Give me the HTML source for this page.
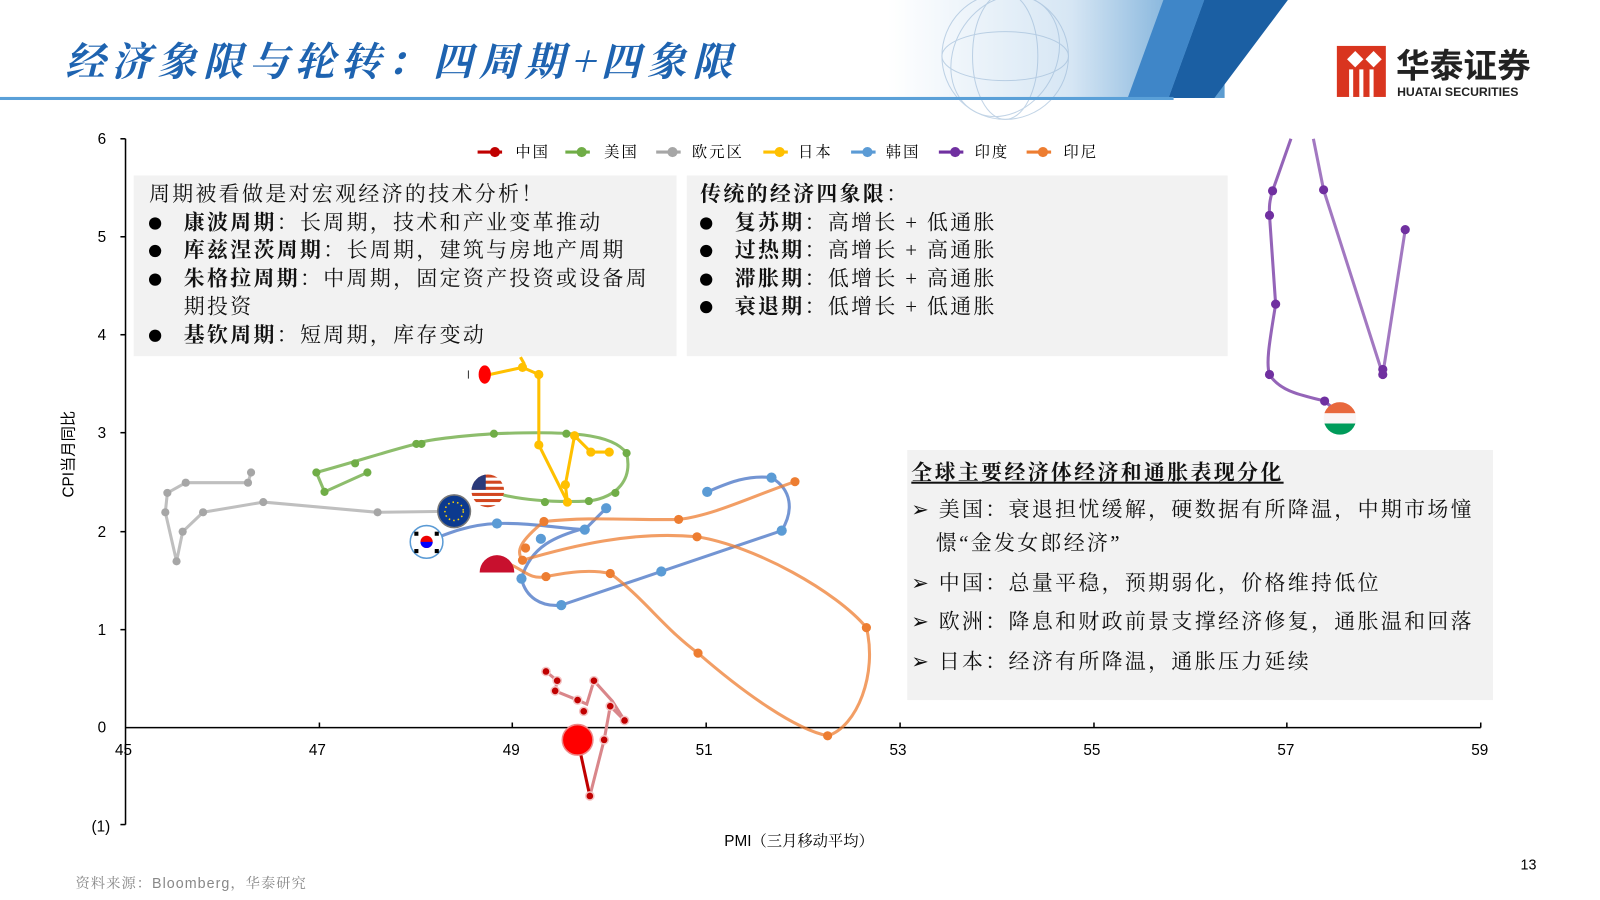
<!DOCTYPE html>
<html><head><meta charset="utf-8">
<style>
html,body{margin:0;padding:0;background:#fff;width:1600px;height:900px;overflow:hidden}
#w{position:absolute;left:0;top:0;width:1568px;height:882px;transform:scale(1.0205);transform-origin:0 0;font-family:"Liberation Serif","Noto Serif CJK SC",serif}
.t{position:absolute;white-space:nowrap}
.box{position:absolute;background:#f2f2f2}
.ln{font-size:20.5px;color:#111;line-height:27.5px;letter-spacing:2.3px}
.ln b{font-weight:bold}
.dot{display:inline-block;width:12px;height:12px;border-radius:50%;background:#000;margin:0 22px 2px 0;vertical-align:middle}
.bx{font-size:20.5px;letter-spacing:2.3px;color:#111}
</style></head><body><div id="w">
<svg width="1568" height="882" style="position:absolute;left:0;top:0">
<defs>
<linearGradient id="hg" x1="0" x2="1"><stop offset="0.45" stop-color="#fff"/><stop offset="0.75" stop-color="#d6e6f4"/><stop offset="1" stop-color="#5a9bd0"/></linearGradient>
</defs>
<rect x="600" y="0" width="600" height="96" fill="url(#hg)"/>
<polygon points="1180,0 1262,0 1190,96 1145,96" fill="#1b5fa3"/>
<polygon points="1140,0 1180,0 1145,96 1105,96" fill="#3f86c8"/>
<g fill="none" stroke="#9ab8d6" stroke-width="1" opacity="0.6">
<circle cx="985" cy="55" r="62"/><ellipse cx="985" cy="55" rx="32" ry="62"/><ellipse cx="985" cy="55" rx="62" ry="24"/><ellipse cx="985" cy="55" rx="50" ry="62" transform="rotate(30 985 55)"/></g>
<rect x="0" y="95" width="1150" height="3" fill="#5aa0d8"/>
<rect x="1310" y="45" width="48" height="50" fill="#d9351f"/>
<path d="M1320,58 l8,-8 l8,8 l-8,8z M1338,58 l8,-8 l8,8 l-8,8z" fill="#fff"/>
<rect x="1322" y="68" width="4" height="27" fill="#fff"/><rect x="1332" y="68" width="4" height="27" fill="#fff"/><rect x="1342" y="68" width="4" height="27" fill="#fff"/>
<g stroke="#000" stroke-width="1.5" fill="none">
<line x1="123" y1="136" x2="123" y2="808"/>
<line x1="123" y1="713" x2="1451" y2="713"/>
</g>
<g stroke="#000" stroke-width="1.5">
<line x1="118" y1="136" x2="123" y2="136"/><line x1="118" y1="232" x2="123" y2="232"/><line x1="118" y1="328" x2="123" y2="328"/><line x1="118" y1="424" x2="123" y2="424"/><line x1="118" y1="521" x2="123" y2="521"/><line x1="118" y1="617" x2="123" y2="617"/><line x1="118" y1="808" x2="123" y2="808"/>
<line x1="313" y1="708" x2="313" y2="713"/><line x1="502" y1="708" x2="502" y2="713"/><line x1="692" y1="708" x2="692" y2="713"/><line x1="882" y1="708" x2="882" y2="713"/><line x1="1072" y1="708" x2="1072" y2="713"/><line x1="1261" y1="708" x2="1261" y2="713"/><line x1="1451" y1="708" x2="1451" y2="713"/>
</g>
<g font-family="Liberation Sans,sans-serif" font-size="15" fill="#000">
<text x="104" y="141" text-anchor="end">6</text><text x="104" y="237" text-anchor="end">5</text><text x="104" y="333" text-anchor="end">4</text><text x="104" y="429" text-anchor="end">3</text><text x="104" y="526" text-anchor="end">2</text><text x="104" y="622" text-anchor="end">1</text><text x="104" y="718" text-anchor="end">0</text><text x="108" y="815" text-anchor="end">(1)</text>
<text x="121" y="740" text-anchor="middle">45</text><text x="311" y="740" text-anchor="middle">47</text><text x="501" y="740" text-anchor="middle">49</text><text x="690" y="740" text-anchor="middle">51</text><text x="880" y="740" text-anchor="middle">53</text><text x="1070" y="740" text-anchor="middle">55</text><text x="1260" y="740" text-anchor="middle">57</text><text x="1450" y="740" text-anchor="middle">59</text>
</g>
<g stroke="#bfbfbf" stroke-width="3" fill="none" stroke-linejoin="round"><polyline points="445,501 370,502 258,492 199,502 179,521 173,550 162,502 164,483 182,473 243,473 246,463"/></g>
<g fill="#a6a6a6"><circle cx="370" cy="502" r="4"/><circle cx="258" cy="492" r="4"/><circle cx="199" cy="502" r="4"/><circle cx="179" cy="521" r="4"/><circle cx="173" cy="550" r="4"/><circle cx="162" cy="502" r="4"/><circle cx="164" cy="483" r="4"/><circle cx="182" cy="473" r="4"/><circle cx="243" cy="473" r="4"/><circle cx="246" cy="463" r="4"/></g>
<path d="M478,481 C500,488 530,493 577,491 C605,487 620,470 614,444 C600,425 560,422 484,425 C440,428 413,432 408,435 C380,442 350,452 310,463 L318,482 L360,463" stroke="#70ad47" stroke-width="3" fill="none" opacity="0.8"/>
<g fill="#70ad47"><circle cx="534" cy="492" r="4"/><circle cx="577" cy="491" r="4"/><circle cx="603" cy="483" r="4"/><circle cx="614" cy="444" r="4"/><circle cx="555" cy="425" r="4"/><circle cx="484" cy="425" r="4"/><circle cx="408" cy="435" r="4"/><circle cx="413" cy="435" r="4"/><circle cx="348" cy="454" r="4"/><circle cx="310" cy="463" r="4"/><circle cx="318" cy="482" r="4"/><circle cx="360" cy="463" r="4"/></g>
<polyline points="480,367 512,360 528,367 528,436 556,492 554,475 563,427 579,443 597,443" stroke="#ffc000" stroke-width="3" fill="none" stroke-linejoin="round"/>
<line x1="510" y1="350" x2="514" y2="357" stroke="#ffc000" stroke-width="3"/>
<g fill="#ffc000"><circle cx="512" cy="360" r="4.5"/><circle cx="528" cy="367" r="4.5"/><circle cx="528" cy="436" r="4.5"/><circle cx="556" cy="492" r="4.5"/><circle cx="554" cy="475" r="4.5"/><circle cx="563" cy="427" r="4.5"/><circle cx="579" cy="443" r="4.5"/><circle cx="597" cy="443" r="4.5"/></g>
<path d="M418,531 C440,522 460,514 487,513 C520,512 550,518 573,519 L594,498 L575,517 C545,525 520,535 511,567 C515,585 530,595 550,593 L648,560 L766,520 C778,500 776,480 756,468 C730,465 710,475 693,482" stroke="#4472c4" stroke-width="3" fill="none" opacity="0.75"/>
<g fill="#5b9bd5"><circle cx="487" cy="513" r="5"/><circle cx="573" cy="519" r="5"/><circle cx="594" cy="498" r="5"/><circle cx="530" cy="528" r="5"/><circle cx="511" cy="567" r="5"/><circle cx="550" cy="593" r="5"/><circle cx="648" cy="560" r="5"/><circle cx="766" cy="520" r="5"/><circle cx="756" cy="468" r="5"/><circle cx="693" cy="482" r="5"/></g>
<path d="M500,553 C515,560 520,568 535,565 C560,560 580,558 598,562 C630,585 650,615 684,640 C730,680 780,715 811,721 C840,712 860,660 849,615 C820,580 740,535 683,526 C620,520 560,535 512,549 C505,540 510,530 533,511 C580,506 620,510 665,509 C700,505 740,485 779,472" stroke="#ed7d31" stroke-width="3" fill="none" opacity="0.75"/>
<g fill="#ed7d31"><circle cx="512" cy="549" r="4.5"/><circle cx="535" cy="565" r="4.5"/><circle cx="598" cy="562" r="4.5"/><circle cx="684" cy="640" r="4.5"/><circle cx="811" cy="721" r="4.5"/><circle cx="849" cy="615" r="4.5"/><circle cx="683" cy="526" r="4.5"/><circle cx="515" cy="537" r="4.5"/><circle cx="533" cy="511" r="4.5"/><circle cx="665" cy="509" r="4.5"/><circle cx="779" cy="472" r="4.5"/></g>
<polyline points="578,780 592,725 598,692 612,706 600,687 582,667 575,690 566,686 544,677 546,667 535,658" stroke="#d9868a" stroke-width="3" fill="none"/>
<line x1="566" y1="725" x2="578" y2="780" stroke="#c00000" stroke-width="3"/>
<g fill="#c00000" stroke="#f4c4c4" stroke-width="1.5"><circle cx="578" cy="780" r="4"/><circle cx="592" cy="725" r="4"/><circle cx="598" cy="692" r="4"/><circle cx="612" cy="706" r="4"/><circle cx="582" cy="667" r="4"/><circle cx="572" cy="697" r="4"/><circle cx="566" cy="686" r="4"/><circle cx="544" cy="677" r="4"/><circle cx="546" cy="667" r="4"/><circle cx="535" cy="658" r="4"/></g>
<circle cx="566" cy="725" r="15" fill="#f00" stroke="#e88" stroke-width="1.5"/>
<path d="M1265,136 L1247,187 C1243,200 1244,205 1244,211 L1250,298 C1245,330 1240,355 1244,367 C1255,385 1280,388 1298,393 L1306,400" stroke="#7030a0" stroke-width="3" fill="none" opacity="0.75"/>
<path d="M1287,136 L1297,186 L1355,367 L1377,225" stroke="#7030a0" stroke-width="3" fill="none" opacity="0.65"/>
<g fill="#7030a0"><circle cx="1247" cy="187" r="4.5"/><circle cx="1244" cy="211" r="4.5"/><circle cx="1250" cy="298" r="4.5"/><circle cx="1244" cy="367" r="4.5"/><circle cx="1298" cy="393" r="4.5"/><circle cx="1297" cy="186" r="4.5"/><circle cx="1355" cy="362" r="4.5"/><circle cx="1355" cy="367" r="4.5"/><circle cx="1377" cy="225" r="4.5"/></g>
<clipPath id="ci"><circle cx="1313" cy="410" r="16"/></clipPath>
<g clip-path="url(#ci)"><rect x="1297" y="394" width="32" height="11" fill="#e8683d"/><rect x="1297" y="405" width="32" height="10" fill="#faf5f5"/><rect x="1297" y="415" width="32" height="11" fill="#009b5a"/></g>
<clipPath id="cu"><circle cx="478" cy="481" r="16"/></clipPath>
<g clip-path="url(#cu)"><rect x="460" y="465" width="36" height="32" fill="#fff"/>
<g fill="#d2461f"><rect x="460" y="465" width="36" height="3"/><rect x="460" y="471" width="36" height="3"/><rect x="460" y="477" width="36" height="3"/><rect x="460" y="483" width="36" height="3"/><rect x="460" y="489" width="36" height="3"/><rect x="460" y="495" width="36" height="3"/></g>
<rect x="460" y="465" width="16" height="15" fill="#2b3a7a"/></g>
<circle cx="445" cy="501" r="16" fill="#0c3a8f" stroke="#777" stroke-width="1.5"/>
<circle cx="445" cy="501" r="9" fill="none" stroke="#ffd400" stroke-width="1.5" stroke-dasharray="1.5 3"/>
<circle cx="418" cy="531" r="16" fill="#fff" stroke="#5b9bd5" stroke-width="1.5"/>
<circle cx="418" cy="531" r="6" fill="#e00"/><path d="M412,531 a6,6 0 0 0 12,0z" fill="#00f"/>
<g fill="#000"><rect x="406" y="521" width="4" height="4"/><rect x="426" y="521" width="4" height="4"/><rect x="406" y="538" width="4" height="4"/><rect x="426" y="538" width="4" height="4"/></g>
<path d="M470,561 a17,17 0 0 1 34,0z" fill="#c8102e"/>
<ellipse cx="475" cy="367" rx="6" ry="9" fill="#f00"/>
<line x1="459" y1="363" x2="459" y2="371" stroke="#333" stroke-width="1"/>
<g font-family="Liberation Serif,Noto Serif CJK SC,serif" font-size="15" fill="#000" letter-spacing="2">
<g stroke-width="3"><line x1="468" y1="149" x2="492" y2="149" stroke="#c00000"/><line x1="554" y1="149" x2="578" y2="149" stroke="#70ad47"/><line x1="643" y1="149" x2="667" y2="149" stroke="#a6a6a6"/><line x1="748" y1="149" x2="772" y2="149" stroke="#ffc000"/><line x1="834" y1="149" x2="858" y2="149" stroke="#5b9bd5"/><line x1="920" y1="149" x2="944" y2="149" stroke="#7030a0"/><line x1="1006" y1="149" x2="1030" y2="149" stroke="#ed7d31"/></g>
<circle cx="485" cy="149" r="5" fill="#c00000"/><circle cx="570" cy="149" r="5" fill="#70ad47"/><circle cx="659" cy="149" r="5" fill="#a6a6a6"/><circle cx="764" cy="149" r="5" fill="#ffc000"/><circle cx="850" cy="149" r="5" fill="#5b9bd5"/><circle cx="936" cy="149" r="5" fill="#7030a0"/><circle cx="1022" cy="149" r="5" fill="#ed7d31"/>
<text x="505" y="154">中国</text><text x="592" y="154">美国</text><text x="678" y="154">欧元区</text><text x="782" y="154">日本</text><text x="868" y="154">韩国</text><text x="955" y="154">印度</text><text x="1042" y="154">印尼</text>
</g>
<text x="72" y="445" transform="rotate(-90 72 445)" text-anchor="middle" font-family="Liberation Sans,Noto Sans CJK SC,sans-serif" font-size="15">CPI当月同比</text>
<text x="783" y="829" text-anchor="middle" font-family="Liberation Sans,Noto Serif CJK SC,sans-serif" font-size="15">PMI（三月移动平均）</text>
</svg>
<div class="t" style="left:64px;top:30px;font-size:39px;font-weight:bold;font-style:italic;color:#1e63b0;font-family:'Noto Serif CJK SC',serif;letter-spacing:6px">经济象限与轮转：四周期+四象限</div>
<div class="t" style="left:1368px;top:43px;font-size:33px;font-weight:bold;color:#222;font-family:'Noto Sans CJK SC',sans-serif;line-height:38px">华泰证券</div>
<div class="t" style="left:1369px;top:83px;font-size:12px;color:#222;font-family:'Liberation Sans',sans-serif;font-weight:bold">HUATAI SECURITIES</div>
<div class="box" style="left:131px;top:172px;width:532px;height:177px"></div>
<div class="box" style="left:673px;top:172px;width:530px;height:177px"></div>
<div class="box" style="left:889px;top:441px;width:574px;height:245px"></div>
<div class="t ln" style="left:146px;top:178px">周期被看做是对宏观经济的技术分析！<br>
<span class="dot"></span><b>康波周期</b>：长周期，技术和产业变革推动<br>
<span class="dot"></span><b>库兹涅茨周期</b>：长周期，建筑与房地产周期<br>
<span class="dot"></span><b>朱格拉周期</b>：中周期，固定资产投资或设备周<br>
<span style="display:inline-block;width:34px"></span>期投资<br>
<span class="dot"></span><b>基钦周期</b>：短周期，库存变动</div>
<div class="t ln" style="left:686px;top:178px"><b>传统的经济四象限</b>：<br>
<span class="dot"></span><b>复苏期</b>：高增长 + 低通胀<br>
<span class="dot"></span><b>过热期</b>：高增长 + 高通胀<br>
<span class="dot"></span><b>滞胀期</b>：低增长 + 高通胀<br>
<span class="dot"></span><b>衰退期</b>：低增长 + 低通胀</div>
<div class="t bx" style="left:893px;top:446px;font-weight:bold;text-decoration:underline">全球主要经济体经济和通胀表现分化</div>
<div class="t bx" style="left:893px;top:484px;line-height:33px">➢ 美国：衰退担忧缓解，硬数据有所降温，中期市场憧<br><span style="display:inline-block;width:24px"></span>憬“金发女郎经济”</div>
<div class="t bx" style="left:893px;top:554px">➢ 中国：总量平稳，预期弱化，价格维持低位</div>
<div class="t bx" style="left:893px;top:592px">➢ 欧洲：降息和财政前景支撑经济修复，通胀温和回落</div>
<div class="t bx" style="left:893px;top:631px">➢ 日本：经济有所降温，通胀压力延续</div>
<div class="t" style="left:74px;top:855px;font-size:14px;color:#888;font-family:'Liberation Sans','Noto Serif CJK SC',sans-serif;letter-spacing:1px">资料来源：Bloomberg，华泰研究</div>
<div class="t" style="left:1490px;top:839px;font-size:14px;color:#000;font-family:'Liberation Sans',sans-serif">13</div>
</div></body></html>
